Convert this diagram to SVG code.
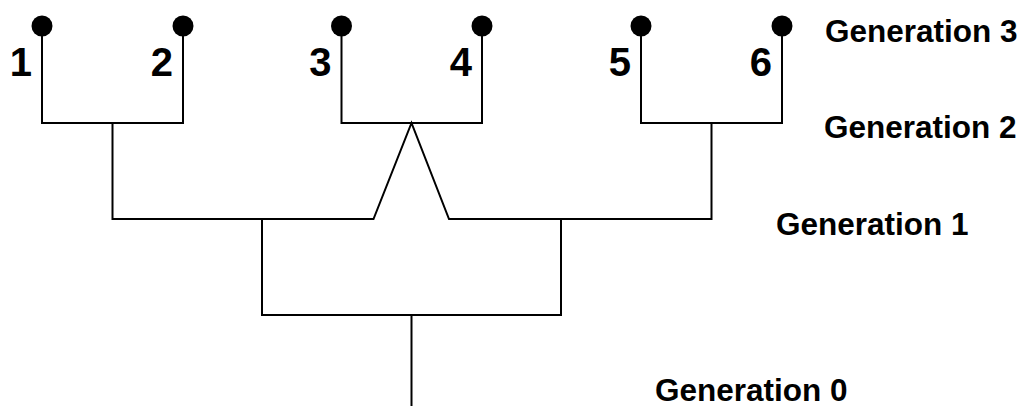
<svg xmlns="http://www.w3.org/2000/svg" width="1022" height="406" viewBox="0 0 1022 406">
  <style>
    .wire { fill: none; stroke: #000; stroke-width: 2; stroke-linejoin: miter; stroke-linecap: square; }
    .dot { fill: #000; }
    .num { font-family: "Liberation Sans", Arial, sans-serif; font-weight: bold; font-size: 40px; fill: #000; text-anchor: end; }
    .gen { font-family: "Liberation Sans", Arial, sans-serif; font-weight: bold; font-size: 31.5px; fill: #000; }
  </style>
  <rect width="1022" height="406" fill="#fff"/>

  <!-- branching lines -->
  <g id="connectors">
    <!-- generation 3 to generation 2 pairs -->
    <path class="wire" d="M42 26 V123 H183 V26"/>
    <path class="wire" d="M341.5 26 V123 H482 V26"/>
    <path class="wire" d="M641 26 V123 H782 V26"/>
    <!-- generation 2 to generation 1 -->
    <path class="wire" d="M112.5 123 V219 H373.5 L411.5 123 L449 219 H711.5 V123"/>
    <!-- generation 1 to generation 0 -->
    <path class="wire" d="M262 219 V315 H561 V219"/>
    <path class="wire" d="M411.5 315 V406"/>
  </g>

  <!-- individuals -->
  <g id="ind1"><circle class="dot" cx="42" cy="26" r="10.5"/><text class="num" x="32" y="76">1</text></g>
  <g id="ind2"><circle class="dot" cx="183" cy="26" r="10.5"/><text class="num" x="173" y="76">2</text></g>
  <g id="ind3"><circle class="dot" cx="341.5" cy="26" r="10.5"/><text class="num" x="331.5" y="76">3</text></g>
  <g id="ind4"><circle class="dot" cx="482" cy="26" r="10.5"/><text class="num" x="472" y="76">4</text></g>
  <g id="ind5"><circle class="dot" cx="641" cy="26" r="10.5"/><text class="num" x="631" y="76">5</text></g>
  <g id="ind6"><circle class="dot" cx="782" cy="26" r="10.5"/><text class="num" x="772" y="76">6</text></g>

  <!-- generation labels -->
  <g id="gen3"><text class="gen" x="825" y="42">Generation 3</text></g>
  <g id="gen2"><text class="gen" x="824" y="138">Generation 2</text></g>
  <g id="gen1"><text class="gen" x="776" y="235">Generation 1</text></g>
  <g id="gen0"><text class="gen" x="655" y="401">Generation 0</text></g>
</svg>
